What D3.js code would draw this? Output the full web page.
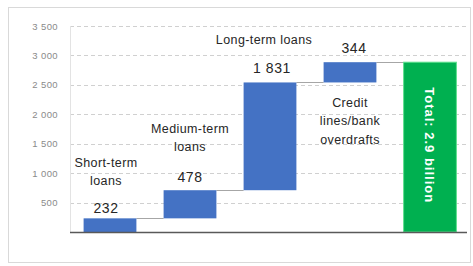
<!DOCTYPE html>
<html>
<head>
<meta charset="utf-8">
<script src="https://cdn.jsdelivr.net/npm/d3@7"></script>
<style>
  body { margin: 0; background: #fff; }
  svg { display: block; font-family: "Liberation Sans", Arial, sans-serif; }
</style>
</head>
<body>
<div id="chart"></div>
<script>
// data (millions)
let categories = ["short", "medium", "long", "credit", "total"];
let labels = [["Short-term", "loans"], ["Medium-term", "loans"], ["Long-term loans"], ["Credit", "lines/bank", "overdrafts"], []];
let values = [232, 478, 1831, 344];
let valueText = ["232", "478", "1 831", "344"];
let totalText = "Total: 2.9 billion";
let yTicks = [500, 1000, 1500, 2000, 2500, 3000, 3500];

let W = 473, H = 266;
let margin = {top: 26, right: 4, bottom: 34, left: 70},
    width = W - margin.left - margin.right,
    height = H - margin.top - margin.bottom;

let svg = d3.select("#chart")
    .append("svg")
    .attr("width", W)
    .attr("height", H);

// outer frame
svg.append("rect")
    .attr("x", 8.5).attr("y", 7.5)
    .attr("width", 462).attr("height", 255)
    .attr("fill", "#fff")
    .attr("stroke", "#d9d9d9");

let g = svg.append("g")
    .attr("transform", "translate(" + margin.left + "," + margin.top + ")");

let x = d3.scaleBand()
    .domain(categories)
    .range([0, 400])
    .paddingInner(0.34)
    .paddingOuter(0.17);

let y = d3.scaleLinear()
    .domain([0, 3500])
    .range([height, 0]);

// gridlines
g.selectAll(".grid")
    .data(yTicks)
    .enter()
    .append("line")
    .attr("x1", 0)
    .attr("x2", width)
    .attr("y1", function(d) { return Math.round(y(d)) + 0.5; })
    .attr("y2", function(d) { return Math.round(y(d)) + 0.5; })
    .attr("stroke", "#d0d0d0")
    .attr("stroke-dasharray", "4,3");

// faint vertical axis line
g.append("line")
    .attr("x1", 0.5).attr("x2", 0.5)
    .attr("y1", y(3500)).attr("y2", height)
    .attr("stroke", "#e3e3e3");

// Y axis labels
let yAxis = g.append("g")
    .call(d3.axisLeft(y).tickValues(yTicks).tickSize(0).tickPadding(12)
        .tickFormat(function(d) { return d3.format(",")(d).replace(",", " "); }));
yAxis.select(".domain").remove();
yAxis.selectAll("text")
    .attr("fill", "#8a8a8a")
    .style("font-size", "9.5px")
    .style("letter-spacing", "0.4px")
    .style("font-family", "\"Liberation Sans\", Arial, sans-serif");

// waterfall steps
let steps = [];
let run = 0;
values.forEach(function(v, i) {
    steps.push({key: categories[i], start: run, end: run + v, text: valueText[i], label: labels[i]});
    run += v;
});
let total = run;

// connectors
g.selectAll(".conn")
    .data(steps)
    .enter()
    .append("line")
    .attr("x1", function(d) { return x(d.key) + x.bandwidth(); })
    .attr("x2", function(d, i) { return x(categories[i + 1]); })
    .attr("y1", function(d) { return Math.round(y(d.end)) + 0.5; })
    .attr("y2", function(d) { return Math.round(y(d.end)) + 0.5; })
    .attr("stroke", "#a6a6a6")
    .attr("stroke-width", 1);

// step bars
g.selectAll(".bar")
    .data(steps)
    .enter()
    .append("rect")
    .attr("x", function(d) { return x(d.key); })
    .attr("y", function(d) { return y(d.end); })
    .attr("width", x.bandwidth())
    .attr("height", function(d) { return y(d.start) - y(d.end); })
    .attr("fill", "#4472c4");

// total bar
g.append("rect")
    .attr("x", x("total"))
    .attr("y", y(total))
    .attr("width", x.bandwidth())
    .attr("height", height - y(total))
    .attr("fill", "#00b050")
    .attr("stroke", "#5ee08e")
    .attr("stroke-width", 1);

g.append("text")
    .attr("transform", "translate(" + (x("total") + x.bandwidth() / 2) + "," + (y(total) + 83) + ") rotate(90)")
    .attr("text-anchor", "middle")
    .attr("dy", "0.35em")
    .attr("fill", "#fff")
    .style("font-size", "13px")
    .style("letter-spacing", "1px")
    .style("font-weight", "bold")
    .text(totalText);

// baseline
g.append("line")
    .attr("x1", 0).attr("x2", width - 2)
    .attr("y1", height + 0.5).attr("y2", height + 0.5)
    .attr("stroke", "#595959")
    .attr("stroke-width", 1.5);

// value labels and category labels (positions per step)
let valueOffset = [-5, -8, -9, -9];
let labelLines = [[-51, -33], [-57, -39], [-38], [45, 63, 82]];
let labelDx = [-4, 0, -6, 0];
let valueDx = [-4, 0, 2, 4];

steps.forEach(function(d, i) {
    let cx = x(d.key) + x.bandwidth() / 2;
    g.append("text")
        .attr("x", cx + valueDx[i])
        .attr("y", y(d.end) + valueOffset[i])
        .attr("text-anchor", "middle")
        .attr("fill", "#262626")
        .style("font-size", "14px")
        .style("letter-spacing", "0.6px")
        .text(d.text);
    d.label.forEach(function(line, j) {
        g.append("text")
            .attr("x", cx + labelDx[i])
            .attr("y", y(d.end) + labelLines[i][j])
            .attr("text-anchor", "middle")
            .attr("fill", "#262626")
            .style("font-size", "12.5px")
            .style("letter-spacing", "0.4px")
            .text(line);
    });
});
</script>
</body>
</html>
